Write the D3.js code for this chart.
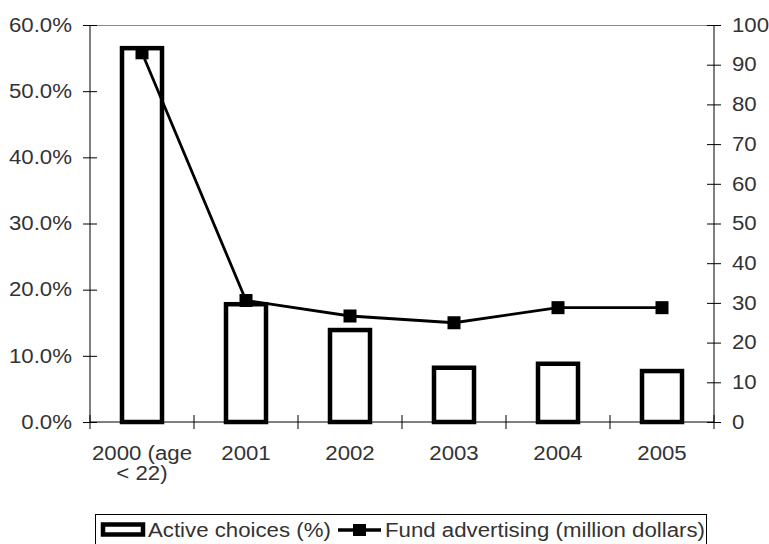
<!DOCTYPE html>
<html><head><meta charset="utf-8">
<script src="https://cdn.jsdelivr.net/npm/d3@7/dist/d3.min.js"></script>
<style>
body{margin:0;background:#fff;}
text{font-family:"Liberation Sans",Arial,sans-serif;}
</style></head>
<body>
<svg id="c" width="769" height="544"></svg>
<script>
const categories = ["2000 (age\n< 22)", "2001", "2002", "2003", "2004", "2005"];
const activeChoices = [0.565, 0.178, 0.139, 0.082, 0.088, 0.077];
const fundAdvertising = [93.0, 30.6, 26.7, 25.0, 28.8, 28.8];
const leftTicks = [0, 0.1, 0.2, 0.3, 0.4, 0.5, 0.6];
const rightTicks = [0, 10, 20, 30, 40, 50, 60, 70, 80, 90, 100];
const legendLabels = ["Active choices (%)", "Fund advertising (million dollars)"];

const svg = d3.select("#c");
const L = 90, R = 714, T = 25, B = 422;
const x = d3.scaleBand().domain(categories).range([L, R]).padding(0);
const yL = d3.scaleLinear().domain([0, 0.6]).range([B, T]);
const yR = d3.scaleLinear().domain([0, 100]).range([B, T]);
const fs = 19.5, tc = "#333", stretch = 1.14;

// top border
svg.append("line").attr("x1", L).attr("x2", R).attr("y1", T + 0.5).attr("y2", T + 0.5)
  .attr("stroke", "#888").attr("stroke-width", 1);

// bars
const bw = 40;
svg.append("g").selectAll("rect").data(categories).join("rect")
  .attr("x", (d) => x(d) + x.bandwidth() / 2 - bw / 2)
  .attr("y", (d, i) => yL(activeChoices[i]))
  .attr("width", bw)
  .attr("height", (d, i) => B - yL(activeChoices[i]))
  .attr("fill", "#fff").attr("stroke", "#000").attr("stroke-width", 4.5);

// left axis
const gl = svg.append("g").attr("transform", `translate(${L},0)`)
  .call(d3.axisLeft(yL).tickValues(leftTicks).tickFormat(d3.format(".1%")).tickSize(7).tickPadding(11));
gl.select(".domain").attr("stroke", "#000").attr("d", `M0,${T}V${B}`);
gl.selectAll(".tick line").attr("x1", -7).attr("x2", 7).attr("stroke", "#000");
gl.selectAll(".tick text").attr("font-size", fs).attr("fill", tc).attr("font-family", null);

// right axis
const gr = svg.append("g").attr("transform", `translate(${R},0)`)
  .call(d3.axisRight(yR).tickValues(rightTicks).tickFormat(d3.format("d")).tickSize(7).tickPadding(11));
gr.select(".domain").attr("stroke", "#000").attr("d", `M0,${T}V${B}`);
gr.selectAll(".tick line").attr("x1", -7).attr("x2", 7).attr("stroke", "#000");
gr.selectAll(".tick text").attr("font-size", fs).attr("fill", tc).attr("font-family", null);

// x axis
const gx = svg.append("g").attr("transform", `translate(0,${B})`);
gx.append("line").attr("x1", L).attr("x2", R).attr("stroke", "#000");
const bounds = categories.map((c) => x(c)).concat([R]);
gx.selectAll("line.tk").data(bounds).join("line").attr("class", "tk")
  .attr("x1", (d) => d).attr("x2", (d) => d).attr("y1", -7).attr("y2", 7).attr("stroke", "#000");
gx.selectAll("text").data(categories).join("text")
  .attr("x", (d) => x(d) + x.bandwidth() / 2)
  .attr("text-anchor", "middle").attr("font-size", fs).attr("fill", tc)
  .each(function (d) {
    const lines = d.split("\n");
    d3.select(this).selectAll("tspan").data(lines).join("tspan")
      .attr("x", x(d) + x.bandwidth() / 2)
      .attr("y", (l, i) => 38 + i * 20)
      .text((l) => l);
  });

// line
const line = d3.line().x((d, i) => x(categories[i]) + x.bandwidth() / 2).y((d) => yR(d));
svg.append("path").datum(fundAdvertising).attr("d", line)
  .attr("fill", "none").attr("stroke", "#000").attr("stroke-width", 2.8);
const ms = 13;
svg.append("g").selectAll("rect").data(fundAdvertising).join("rect")
  .attr("x", (d, i) => x(categories[i]) + x.bandwidth() / 2 - ms / 2)
  .attr("y", (d) => yR(d) - ms / 2)
  .attr("width", ms).attr("height", ms).attr("fill", "#000");

// legend
const lg = svg.append("g");
lg.append("rect").attr("x", 95.5).attr("y", 514.5).attr("width", 611).attr("height", 32)
  .attr("fill", "#fff").attr("stroke", "#000").attr("stroke-width", 1);
lg.append("rect").attr("x", 103).attr("y", 524.5).attr("width", 40).attr("height", 10)
  .attr("fill", "#fff").attr("stroke", "#000").attr("stroke-width", 4.5);
lg.append("text").attr("x", 148).attr("y", 537).attr("font-size", fs).attr("fill", tc).text(legendLabels[0]);
lg.append("line").attr("x1", 338).attr("x2", 381).attr("y1", 530).attr("y2", 530)
  .attr("stroke", "#000").attr("stroke-width", 3.5);
lg.append("rect").attr("x", 353).attr("y", 524).attr("width", 13).attr("height", 12).attr("fill", "#000");
lg.append("text").attr("x", 385).attr("y", 537).attr("font-size", fs).attr("fill", tc).text(legendLabels[1]);

// horizontal stretch of text to match reference proportions
svg.selectAll("text").each(function () {
  const t = d3.select(this);
  if (!t.selectAll("tspan").empty()) {
    t.selectAll("tspan").each(function () {
      const w = this.getComputedTextLength();
      d3.select(this).attr("textLength", w * stretch).attr("lengthAdjust", "spacingAndGlyphs");
    });
  } else {
    const w = this.getComputedTextLength();
    t.attr("textLength", w * stretch).attr("lengthAdjust", "spacingAndGlyphs");
  }
});
</script>
</body></html>
